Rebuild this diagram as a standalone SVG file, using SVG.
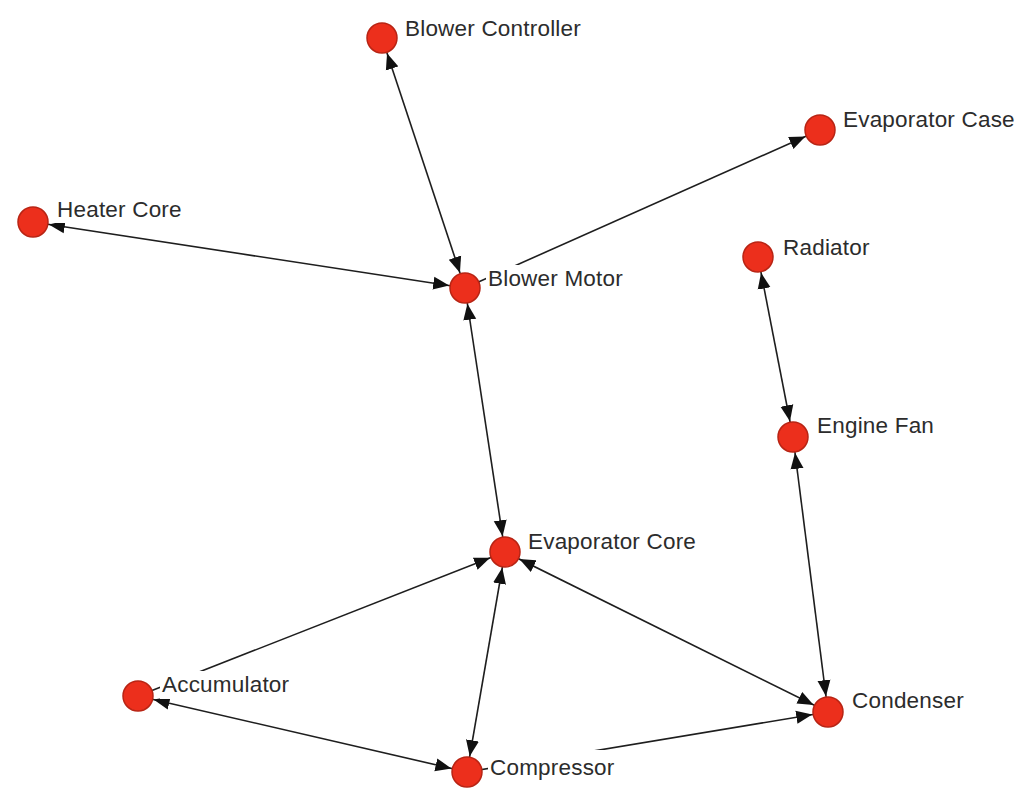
<svg xmlns="http://www.w3.org/2000/svg" width="1024" height="791" viewBox="0 0 1024 791">
<style>
.edge{stroke:#1e1e1e;stroke-width:1.6;fill:none}
.bi{marker-start:url(#ah);marker-end:url(#ah)}
.uni{marker-end:url(#ah)}
.node circle{fill:#ec2f1c;stroke:#b82414;stroke-width:1.5}
.node text{font-family:"Liberation Sans",Arial,sans-serif;font-size:22.5px;letter-spacing:0.2px;fill:#2c2c2c}
.node rect{fill:#fff}
</style>
<defs>
<marker id="ah" markerUnits="userSpaceOnUse" viewBox="0 0 40 14" markerWidth="40" markerHeight="14" refX="32" refY="7" orient="auto-start-reverse">
<path d="M0,0.5 L16,7 L0,13.5 z" fill="#111"/>
</marker>
</defs>
<rect width="1024" height="791" fill="#fff"/>
<g id="connectors">
<line class="edge bi" x1="382" y1="38" x2="465" y2="288"/>
<line class="edge uni" x1="465" y1="288" x2="820" y2="130"/>
<line class="edge bi" x1="33" y1="222" x2="465" y2="288"/>
<line class="edge bi" x1="465" y1="288" x2="505" y2="552"/>
<line class="edge bi" x1="758" y1="257" x2="793" y2="437"/>
<line class="edge bi" x1="793" y1="437" x2="828" y2="712"/>
<line class="edge uni" x1="138" y1="696" x2="505" y2="552"/>
<line class="edge bi" x1="505" y1="552" x2="467" y2="772"/>
<line class="edge bi" x1="505" y1="552" x2="828" y2="712"/>
<line class="edge bi" x1="138" y1="696" x2="467" y2="772"/>
<line class="edge uni" x1="467" y1="772" x2="828" y2="712"/>
</g>
<g id="node-blower-controller" class="node"><rect x="403" y="14" width="178" height="28"/><circle cx="382" cy="38" r="15"/><text x="405" y="36">Blower Controller</text></g>
<g id="node-evaporator-case" class="node"><rect x="841" y="105" width="180" height="28"/><circle cx="820" cy="130" r="15"/><text x="843" y="127">Evaporator Case</text></g>
<g id="node-heater-core" class="node"><rect x="55" y="195" width="128" height="28"/><circle cx="33" cy="222" r="15"/><text x="57" y="217">Heater Core</text></g>
<g id="node-blower-motor" class="node"><rect x="486" y="265" width="140" height="28"/><circle cx="465" cy="288" r="15"/><text x="488" y="286">Blower Motor</text></g>
<g id="node-radiator" class="node"><rect x="781" y="233" width="94" height="28"/><circle cx="758" cy="257" r="15"/><text x="783" y="255">Radiator</text></g>
<g id="node-engine-fan" class="node"><rect x="815" y="411" width="124" height="28"/><circle cx="793" cy="437" r="15"/><text x="817" y="433">Engine Fan</text></g>
<g id="node-evaporator-core" class="node"><rect x="526" y="527" width="176" height="28"/><circle cx="505" cy="552" r="15"/><text x="528" y="549">Evaporator Core</text></g>
<g id="node-accumulator" class="node"><rect x="160" y="671" width="132" height="28"/><circle cx="138" cy="696" r="15"/><text x="162" y="692">Accumulator</text></g>
<g id="node-condenser" class="node"><rect x="850" y="686" width="120" height="28"/><circle cx="828" cy="712" r="15"/><text x="852" y="708">Condenser</text></g>
<g id="node-compressor" class="node"><rect x="488" y="750" width="130" height="30"/><circle cx="467" cy="772" r="15"/><text x="490" y="775">Compressor</text></g>
</svg>
